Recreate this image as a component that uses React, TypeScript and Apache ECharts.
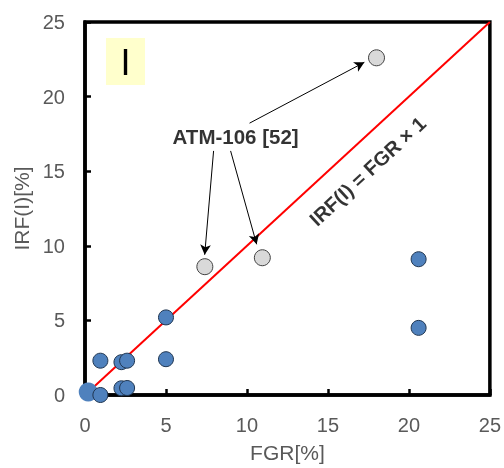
import React, { useEffect, useRef } from "react";
import * as echarts from "echarts";

const blueOrigin: [number, number][] = [[0.2, 0.2]];
const bluePoints: [number, number][] = [
  [0.95, 0.0],
  [0.95, 2.3],
  [2.25, 2.2],
  [2.6, 2.3],
  [2.25, 0.45],
  [2.6, 0.47],
  [5.0, 5.2],
  [5.0, 2.4],
  [20.6, 9.1],
  [20.6, 4.5],
];
const grayPoints: [number, number][] = [
  [7.4, 8.6],
  [10.95, 9.2],
  [18.0, 22.6],
];
const refLine: [number, number][] = [
  [0, 0],
  [25, 25],
];
const arrows: [[number, number], [number, number]][] = [
  [[7.94, 16.36], [7.39, 9.4]],
  [[8.99, 16.36], [10.6, 10.1]],
  [[10.16, 18.22], [17.25, 22.3]],
];
const annoText: [number, number][] = [[9.3, 17.3]];
const lineLabel: [number, number][] = [[17.45, 15.0]];

const FONT = "'Liberation Sans', Arial, sans-serif";

export default function App() {
  const ref = useRef<HTMLDivElement>(null);
  useEffect(() => {
    if (!ref.current) return;
    const chart = echarts.init(ref.current, null, { renderer: "svg" });
    chart.setOption({
      animation: false,
      textStyle: { fontFamily: FONT },
      grid: {
        left: 85,
        right: 13,
        top: 22,
        bottom: 70,
        show: true,
        borderColor: "#000",
        borderWidth: 3.5,
      },
      xAxis: {
        type: "value",
        min: 0,
        max: 25,
        interval: 5,
        name: "FGR[%]",
        nameLocation: "middle",
        nameGap: 47,
        nameTextStyle: { fontSize: 21, color: "#595959", fontFamily: FONT },
        axisLine: { show: true, onZero: false, lineStyle: { color: "#000", width: 3.5 } },
        axisTick: { show: true, inside: true, length: 6, lineStyle: { color: "#000", width: 2.5 } },
        axisLabel: { show: true, fontSize: 20, color: "#595959", margin: 20, fontFamily: FONT },
        splitLine: { show: false },
      },
      yAxis: {
        type: "value",
        min: 0,
        max: 25,
        interval: 5,
        name: "IRF(I)[%]",
        nameLocation: "middle",
        nameGap: 52,
        nameTextStyle: { fontSize: 21, color: "#595959", fontFamily: FONT },
        axisLine: { show: true, onZero: false, lineStyle: { color: "#000", width: 3.5 } },
        axisTick: { show: true, inside: true, length: 6, lineStyle: { color: "#000", width: 2.5 } },
        axisLabel: { show: true, fontSize: 20, color: "#595959", margin: 20, fontFamily: FONT },
        splitLine: { show: false },
      },
      graphic: [
        {
          type: "rect",
          shape: { x: 106, y: 38, width: 39, height: 47 },
          style: { fill: "#ffffcc" },
          z: 10,
        },
        {
          type: "text",
          x: 125.5,
          y: 62,
          style: {
            text: "I",
            fontSize: 36,
            fontFamily: FONT,
            fill: "#000",
            align: "center",
            verticalAlign: "middle",
          },
          z: 11,
        },
      ],
      series: [
        {
          type: "line",
          data: refLine,
          showSymbol: false,
          symbol: "none",
          lineStyle: { color: "#ff0000", width: 2 },
          z: 2,
          silent: true,
          markLine: {
            silent: true,
            symbol: ["none", "arrow"],
            symbolSize: [8, 10],
            label: { show: false },
            lineStyle: { color: "#000", width: 1, type: "solid" },
            data: arrows.map(([a, b]) => [{ coord: a }, { coord: b }]),
          },
        },
        {
          type: "scatter",
          data: blueOrigin,
          symbolSize: 19,
          itemStyle: { color: "#4f81bd", borderWidth: 0, opacity: 1 },
          z: 3,
        },
        {
          type: "scatter",
          data: bluePoints,
          symbolSize: 15,
          itemStyle: { color: "#4f81bd", borderColor: "#1f3550", borderWidth: 1, opacity: 1 },
          z: 4,
        },
        {
          type: "scatter",
          data: grayPoints,
          symbolSize: 16,
          itemStyle: { color: "#d9d9d9", borderColor: "#404040", borderWidth: 1, opacity: 1 },
          z: 4,
        },
        {
          type: "scatter",
          data: annoText,
          symbolSize: 0,
          silent: true,
          label: {
            show: true,
            position: "inside",
            formatter: "ATM-106 [52]",
            fontSize: 20.5,
            fontWeight: "bold",
            color: "#000",
            fontFamily: FONT,
          },
          z: 5,
        },
        {
          type: "scatter",
          data: lineLabel,
          symbolSize: 0,
          silent: true,
          label: {
            show: true,
            position: "inside",
            rotate: 42.8,
            formatter: "IRF(I) = FGR × 1",
            fontSize: 20,
            fontWeight: "bold",
            color: "#000",
            fontFamily: FONT,
          },
          z: 5,
        },
      ],
    });
    return () => chart.dispose();
  }, []);
  return (
    <div
      ref={ref}
      style={{ position: "fixed", left: 0, top: 0, width: 504, height: 468 }}
    />
  );
}
